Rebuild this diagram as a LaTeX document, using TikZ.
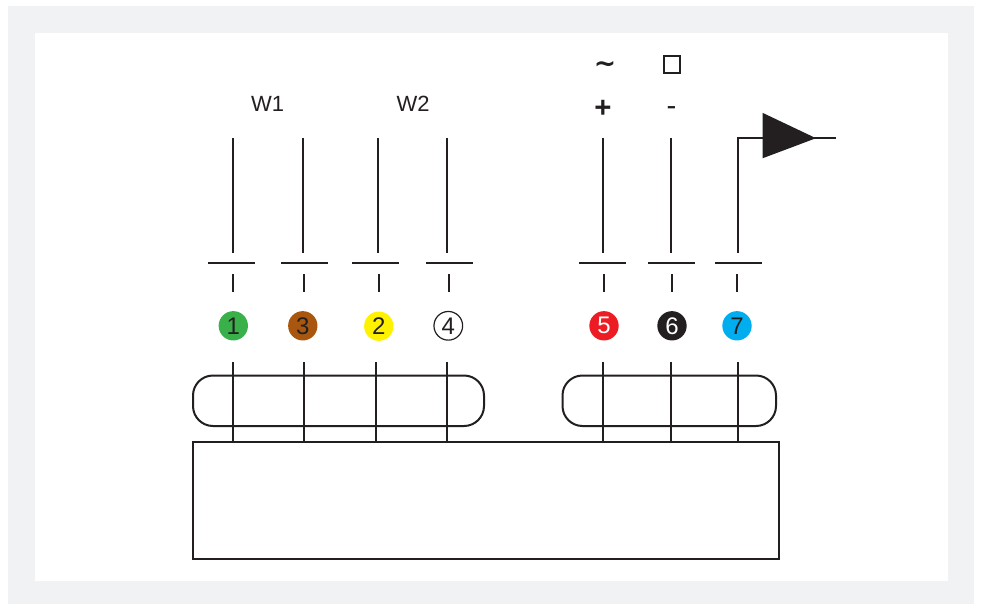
\documentclass[tikz,border=0pt]{standalone}
\usepackage{fontspec}
\setmainfont{Liberation Sans}
\newfontfamily\symfont{DejaVu Sans}
\usetikzlibrary{calc}
\definecolor{ink}{HTML}{231F20}
\definecolor{panel}{HTML}{F1F2F4}
\definecolor{cgreen}{HTML}{39B04A}
\definecolor{cbrown}{HTML}{A9570F}
\definecolor{cyellow}{HTML}{FFF200}
\definecolor{cred}{HTML}{ED1C24}
\definecolor{cblue}{HTML}{00AEEF}
\tikzset{
  wire/.style={draw=ink,line width=1.5pt},
  box/.style={draw=ink,line width=1.5pt,fill=none},
  dot/.style={circle,minimum size=22pt,inner sep=0pt,font=\fontsize{18}{18}\selectfont,text=ink},
  lbl/.style={font=\fontsize{16.5}{16.5}\selectfont,text=ink,inner sep=0pt},
}
\begin{document}
\begin{tikzpicture}[x=0.75pt,y=-0.75pt]
\useasboundingbox (0,0) rectangle (982,604);
\fill[panel] (8,6) rectangle (974,604);
\fill[white] (35,33) rectangle (948,581);
% main box and housings
\node[box,minimum width=439.5pt,minimum height=87.75pt,inner sep=0pt] (base) at (486,500.5) {};
\draw[box,rounded corners=15pt] (193,375.5) rectangle (484,426);
\draw[box,rounded corners=15pt] (562.5,375.5) rectangle (776,426);
% colour dots
\node[dot,fill=cgreen] (d1) at (233.3,325.8) {1};
\node[dot,fill=cbrown] (d3) at (302.8,325.8) {3};
\node[dot,fill=cyellow] (d2) at (378.8,326.2) {2};
\node[dot,draw=ink,line width=0.9pt,minimum size=21.5pt] (d4) at (448.3,325.8) {4};
\node[dot,fill=cred,text=white] (d5) at (604,325.8) {5};
\node[dot,fill=ink,text=white] (d6) at (672,325.8) {6};
\node[dot,fill=cblue] (d7) at (737,325.8) {7};
% labels
\node[lbl] (w1) at (267.5,104) {W1};
\node[lbl] (w2) at (413,104) {W2};
\node[lbl,font=\fontsize{22}{22}\selectfont\bfseries] (plus) at (603,108.5) {+};
\node[lbl,font=\fontsize{22}{22}\selectfont] (minus) at (671.5,111.5) {-};
\node[lbl,font=\fontsize{20}{20}\selectfont\bfseries\symfont] (tilde) at (605,67) {∼};
\node[draw=ink,line width=1.5pt,minimum size=12.5pt,inner sep=0pt] (sq) at (672,64.6) {};
% upper wires
\foreach \n/\x in {a/233,b/303,c/378,d/447,e/603,f/671}
  {\coordinate (\n t) at (\x,138); \coordinate (\n b) at (\x,253); \draw[wire] (\n t) -- (\n b);}
\coordinate (gb) at (738,253); \coordinate (gt) at (738,138); \coordinate (out) at (836,138);
\coordinate (tin) at (770,138); \coordinate (tout) at (800,138);
\draw[wire] (gb) -- (gt) -- (tin);
\fill[ink] (762.5,112.8) coordinate (t1) -- (762.5,158.3) coordinate (t2) -- (816,138.2) coordinate (t3) -- cycle;
\draw[wire] (tout) -- (out);
% contact bars
\foreach \n/\l/\r in {a/208/255,b/281/328,c/352/399,d/426/473,e/579/626,f/648/695,g/715/762}
  {\coordinate (\n l) at (\l,263.2); \coordinate (\n r) at (\r,263.2); \draw[wire] (\n l) -- (\n r);}
% ticks
\foreach \n/\x in {a/232.5,b/303.5,c/378.5,d/448.5,e/604,f/672,g/737}
  {\coordinate (\n p) at (\x,274); \coordinate (\n q) at (\x,291.5); \draw[wire] (\n p) -- (\n q);}
% lower wires
\foreach \n/\x in {a/232.5,b/303.5,c/376,d/447,e/603,f/671,g/738}
  {\coordinate (\n u) at (\x,362); \coordinate (\n v) at (\x,442); \draw[wire] (\n u) -- (\n v);}
\end{tikzpicture}
\end{document}
